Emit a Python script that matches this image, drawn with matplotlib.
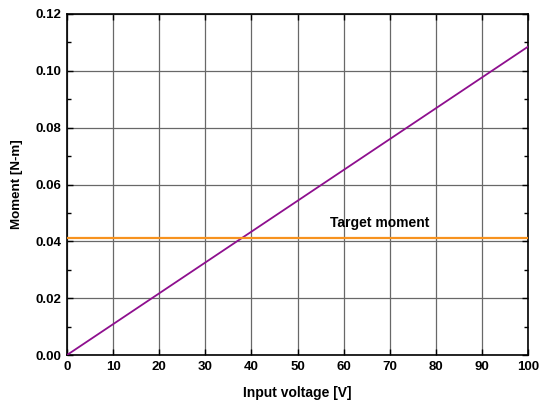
import matplotlib
matplotlib.use("Agg")
import matplotlib.pyplot as plt
from matplotlib.ticker import MultipleLocator

plt.rcParams['font.family'] = ['Liberation Sans', 'DejaVu Sans']
plt.rcParams['font.weight'] = 'bold'

voltage = [0, 100]
moment = [0.0, 0.1085]
target_moment = 0.0410
x_ticks = [0, 10, 20, 30, 40, 50, 60, 70, 80, 90, 100]
y_ticks = [0.00, 0.02, 0.04, 0.06, 0.08, 0.10, 0.12]

fig = plt.figure(figsize=(5.4, 4.05), dpi=100)
ax = fig.add_axes([67/540, 1-355/405, 461/540, 341/405])

ax.plot(voltage, moment, color='#8e0f8e', lw=1.3, zorder=3)
ax.axhline(target_moment, color='#f7921e', lw=1.6, zorder=3)
ax.text(57, target_moment + 0.0030, 'Target moment', fontsize=10,
        fontweight='bold', va='bottom', ha='left')

ax.set_xlim(0, 100)
ax.set_ylim(0, 0.12)
ax.set_xticks(x_ticks)
ax.set_yticks(y_ticks)
ax.set_xticklabels([str(v) for v in x_ticks])
ax.set_yticklabels([f'{v:.2f}' for v in y_ticks])
ax.yaxis.set_minor_locator(MultipleLocator(0.01))
ax.grid(True, which='major', color='#686868', lw=0.9)
ax.tick_params(which='both', direction='in', top=True, right=True,
               labelsize=9.5, pad=4)
ax.tick_params(which='major', length=4, width=1)
ax.tick_params(which='minor', length=3, width=1)
for s in ax.spines.values():
    s.set_linewidth(1.2)

ax.set_xlabel('Input voltage [V]', fontsize=10, fontweight='bold', labelpad=10)
ax.set_ylabel('Moment [N-m]', fontsize=9.6, fontweight='bold', labelpad=9)

fig.savefig('out.png', dpi=100)
